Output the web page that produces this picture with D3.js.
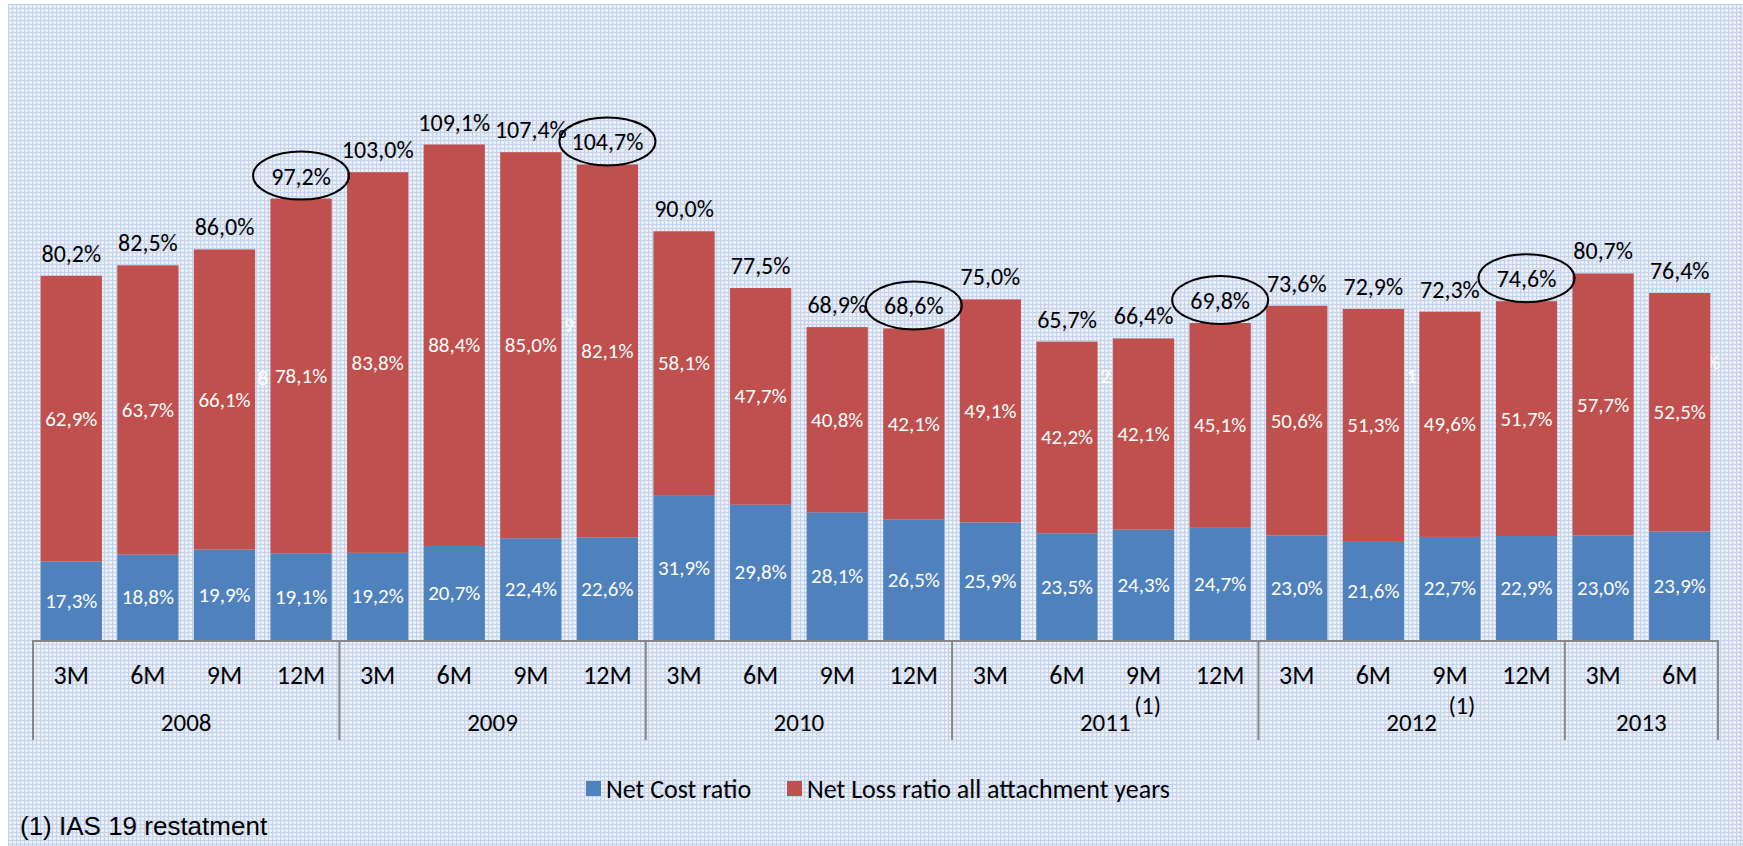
<!DOCTYPE html>
<html>
<head>
<meta charset="utf-8">
<title>Net cost and loss ratios</title>
<style>
    body { margin: 0; background: #fff; }
    text { font-family: Carlito, Calibri, Lato, sans-serif; }
    .month { font-size: 26px; fill: #000; }
    .note { font-size: 24px; fill: #000; }
    .year { font-size: 25px; fill: #000; }
    .total { font-size: 24px; fill: #000; }
    .inner { font-size: 21px; fill: #fff; }
    .legend text { font-size: 26px; fill: #000; }
    .foot { font-family: "Liberation Sans", Arial, sans-serif; font-size: 26px; fill: #000; }
</style>
</head>
<body>
<script src="https://d3js.org/d3.v7.min.js"></script>
<script>
// data
var years = ["2008", "2009", "2010", "2011", "2012", "2013"];
var periods = ["3M", "6M", "9M", "12M", "3M", "6M", "9M", "12M", "3M", "6M", "9M", "12M",
               "3M", "6M", "9M", "12M", "3M", "6M", "9M", "12M", "3M", "6M"];
var periodYear = ["2008", "2008", "2008", "2008", "2009", "2009", "2009", "2009",
                  "2010", "2010", "2010", "2010", "2011", "2011", "2011", "2011",
                  "2012", "2012", "2012", "2012", "2013", "2013"];
var netCost = [17.3, 18.8, 19.9, 19.1, 19.2, 20.7, 22.4, 22.6, 31.9, 29.8, 28.1, 26.5,
               25.9, 23.5, 24.3, 24.7, 23.0, 21.6, 22.7, 22.9, 23.0, 23.9];
var netLoss = [62.9, 63.7, 66.1, 78.1, 83.8, 88.4, 85.0, 82.1, 58.1, 47.7, 40.8, 42.1,
               49.1, 42.2, 42.1, 45.1, 50.6, 51.3, 49.6, 51.7, 57.7, 52.5];
var seriesNames = ["Net Cost ratio", "Net Loss ratio all attachment years"];
var circled = [3, 7, 11, 15, 19];        // 12M totals with an oval
var restated = [14, 18];                 // periods marked (1)
var footnote = "(1) IAS 19 restatment";
// stray white label fragments visible between bars
var ghosts = [
    { gap: 2, text: "8", v: 57.7 },
    { gap: 6, text: "9", v: 69.3 },
    { gap: 13, text: "2", v: 58.1 },
    { gap: 17, text: "1", v: 58.1 },
    { gap: 21, text: "%", v: 61.2 }
];

var width = 1743, height = 846;
var colors = ["#4f81bd", "#c0504d"];

var svg = d3.select("body").append("svg")
    .attr("width", width)
    .attr("height", height);

// blue mesh background
var defs = svg.append("defs");
var pat = defs.append("pattern")
    .attr("id", "mesh")
    .attr("width", 4).attr("height", 4)
    .attr("patternUnits", "userSpaceOnUse");
pat.append("rect").attr("width", 4).attr("height", 4).attr("fill", "#e6ecf7");
pat.append("rect").attr("x", 0).attr("y", 0).attr("width", 4).attr("height", 1).attr("fill", "#c5d2eb");
pat.append("rect").attr("x", 0).attr("y", 0).attr("width", 1).attr("height", 4).attr("fill", "#c5d2eb");
pat.append("rect").attr("x", 2).attr("y", 2).attr("width", 1).attr("height", 1).attr("fill", "#ffffff");

svg.append("rect")
    .attr("x", 8).attr("y", 4)
    .attr("width", width - 8).attr("height", height - 4)
    .attr("fill", "url(#mesh)");

var x = d3.scaleBand()
    .domain(d3.range(periods.length))
    .range([33, 1718])
    .paddingInner(0.2)
    .paddingOuter(0.1);

var y = d3.scaleLinear()
    .domain([0, 120])
    .range([640, 95]);

var fmt = function(v) { return d3.format(".1f")(v).replace(".", ",") + "%"; };

var rows = periods.map(function(p, i) {
    return { i: i, period: p, year: periodYear[i], cost: netCost[i], loss: netLoss[i] };
});
var stack = d3.stack().keys(["cost", "loss"])(rows);

// ghost fragments sit behind the bars
svg.append("g").selectAll("text")
    .data(ghosts)
    .enter().append("text")
    .attr("class", "inner")
    .attr("x", function(d) {
        return d.gap === periods.length - 1 ? x(d.gap) + x.bandwidth() + 10 : x(d.gap) + x.bandwidth() + x.step() * 0.1;
    })
    .attr("y", function(d) { return y(d.v) + 7; })
    .attr("text-anchor", function(d) { return d.gap === periods.length - 1 ? "end" : "middle"; })
    .text(function(d) { return d.text; });

// bars
var layer = svg.append("g").selectAll("g")
    .data(stack)
    .enter().append("g")
    .attr("fill", function(d, k) { return colors[k]; });

layer.selectAll("rect")
    .data(function(d) { return d; })
    .enter().append("rect")
    .attr("x", function(d) { return x(d.data.i); })
    .attr("width", x.bandwidth())
    .attr("y", function(d) { return y(d[1]); })
    .attr("height", function(d) { return y(d[0]) - y(d[1]); });

// labels inside segments
layer.selectAll("text")
    .data(function(d) { return d; })
    .enter().append("text")
    .attr("class", "inner")
    .attr("text-anchor", "middle")
    .attr("x", function(d) { return x(d.data.i) + x.bandwidth() / 2; })
    .attr("y", function(d) { return (y(d[0]) + y(d[1])) / 2 + 7; })
    .text(function(d) { return fmt(d[1] - d[0]); });

// totals above bars
var totals = svg.append("g").selectAll("g")
    .data(rows)
    .enter().append("g")
    .attr("transform", function(d) {
        return "translate(" + (x(d.i) + x.bandwidth() / 2) + "," + (y(d.cost + d.loss) - 23) + ")";
    });

totals.append("text")
    .attr("class", "total")
    .attr("text-anchor", "middle")
    .attr("y", 9)
    .text(function(d) { return fmt(d.cost + d.loss); });

totals.filter(function(d) { return circled.indexOf(d.i) >= 0; })
    .append("ellipse")
    .attr("rx", 48)
    .attr("ry", 24)
    .attr("fill", "none")
    .attr("stroke", "#000")
    .attr("stroke-width", 2);

// category axis
var axis = svg.append("g");
axis.append("line")
    .attr("x1", x.range()[0]).attr("x2", x.range()[1])
    .attr("y1", 641).attr("y2", 641)
    .attr("stroke", "#868686").attr("stroke-width", 2);

var edge = function(i) { return x(i) - x.step() * x.paddingOuter(); };

var groups = years.map(function(yr) {
    var idx = rows.filter(function(r) { return r.year === yr; }).map(function(r) { return r.i; });
    return { year: yr, start: edge(idx[0]), end: edge(idx[idx.length - 1]) + x.step() };
});

var seps = [groups[0].start].concat(groups.map(function(g) { return g.end; }));
axis.selectAll("line.sep")
    .data(seps)
    .enter().append("line")
    .attr("class", "sep")
    .attr("x1", function(d) { return d; }).attr("x2", function(d) { return d; })
    .attr("y1", 640).attr("y2", 740)
    .attr("stroke", "#868686").attr("stroke-width", 2);

axis.selectAll("text.month")
    .data(rows)
    .enter().append("text")
    .attr("class", "month")
    .attr("text-anchor", "middle")
    .attr("x", function(d) { return x(d.i) + x.bandwidth() / 2; })
    .attr("y", 684)
    .text(function(d) { return d.period; });

axis.selectAll("text.year")
    .data(groups)
    .enter().append("text")
    .attr("class", "year")
    .attr("text-anchor", "middle")
    .attr("x", function(d) { return (d.start + d.end) / 2; })
    .attr("y", 731)
    .text(function(d) { return d.year; });

axis.selectAll("text.note")
    .data(restated)
    .enter().append("text")
    .attr("class", "note")
    .attr("text-anchor", "middle")
    .attr("x", function(d, k) { return x(d) + x.bandwidth() / 2 + 4 + k * 8; })
    .attr("y", 714)
    .text("(1)");

// legend
var legend = svg.append("g").attr("class", "legend");
var legX = [586, 787];
seriesNames.forEach(function(name, k) {
    legend.append("rect")
        .attr("x", legX[k]).attr("y", 781)
        .attr("width", 15).attr("height", 15)
        .attr("fill", colors[k]);
    legend.append("text")
        .attr("x", legX[k] + 20).attr("y", 798)
        .text(name);
});

svg.append("text")
    .attr("class", "foot")
    .attr("x", 20).attr("y", 835)
    .text(footnote);
</script>
</body>
</html>
